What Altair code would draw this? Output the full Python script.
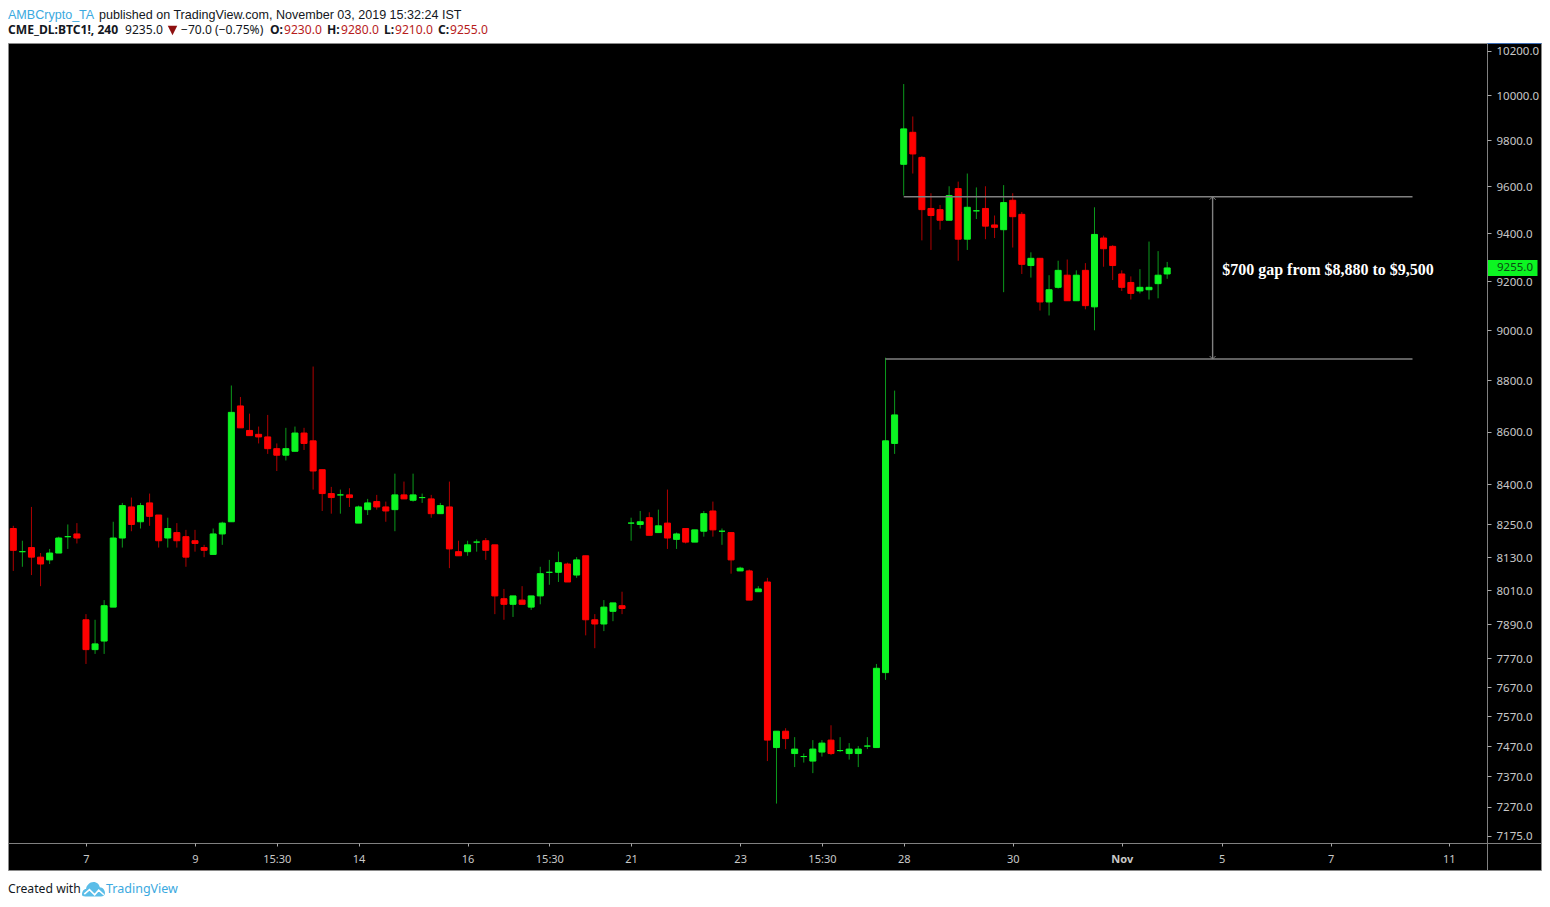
import altair as alt
import pandas as pd

# ---- candle data (4h bars, bar index -1 .. 127) ----
opens = [8285,
 8235,8150,8165,8130,8120,8145,8205,8215,7905,7800,
 7830,7950,8200,8315,8260,8330,8285,8200,8220,8205,
 8190,8165,8140,8215,8260,8700,8605,8590,8580,8535,
 8510,8525,8595,8565,8455,8365,8360,8360,8255,8305,
 8335,8315,8305,8360,8340,8350,8345,8290,8315,8150,
 8150,8185,8190,8175,7980,7960,7975,7950,7990,8075,
 8075,8105,8065,8135,7905,7890,7935,7955,8255,8250,
 8275,8220,8255,8195,8235,8185,8225,8300,8225,8220,
 8080,8080,8005,8040,7465,7520,7445,7435,7420,7450,
 7490,7455,7445,7445,7470,7465,7720,8555,9695,9835,
 9725,9505,9500,9455,9590,9375,9495,9505,9435,9415,
 9540,9480,9265,9295,9115,9175,9225,9120,9245,9095,
 9380,9345,9230,9195,9160,9165,9190,9230]
highs = [8285,
 8245,8190,8315,8145,8160,8205,8250,8255,7925,7905,
 7975,8260,8330,8350,8330,8365,8285,8275,8255,8230,
 8230,8175,8235,8260,8780,8735,8670,8620,8665,8555,
 8615,8620,8615,8855,8455,8390,8380,8385,8320,8345,
 8360,8335,8440,8410,8440,8365,8360,8330,8410,8190,
 8190,8195,8200,8175,8015,7990,8025,7990,8095,8120,
 8150,8110,8130,8135,7925,7975,7965,8005,8275,8300,
 8295,8305,8380,8220,8235,8230,8300,8335,8235,8220,
 8095,8085,8025,8055,7520,7530,7500,7445,7490,7490,
 7540,7500,7480,7470,7500,7750,8890,8760,10050,9905,
 9730,9570,9520,9600,9620,9655,9595,9600,9475,9605,
 9570,9490,9320,9295,9225,9285,9290,9245,9275,9510,
 9390,9350,9245,9220,9250,9365,9325,9280]
lows = [8235,
 8080,8095,8065,8025,8105,8145,8160,8180,7750,7785,
 7785,7950,8165,8225,8235,8245,8165,8165,8165,8095,
 8150,8130,8140,8175,8260,8615,8585,8555,8515,8450,
 8490,8525,8530,8380,8300,8290,8290,8315,8255,8285,
 8305,8260,8225,8345,8335,8330,8275,8290,8090,8135,
 8135,8150,8120,7925,7905,7915,7960,7940,7960,8030,
 8040,8040,8055,7850,7805,7865,7900,7925,8190,8235,
 8210,8220,8160,8160,8180,8185,8205,8205,8175,8070,
 8080,7975,8005,7420,7280,7460,7400,7415,7380,7435,
 7440,7450,7425,7400,7460,7465,7695,8515,9560,9655,
 9370,9330,9415,9455,9285,9330,9460,9375,9380,9155,
 9340,9230,9215,9080,9060,9170,9120,9120,9085,9000,
 9260,9205,9160,9125,9150,9125,9130,9210]
closes = [8235,
 8155,8150,8130,8105,8145,8200,8205,8200,7800,7820,
 7955,8200,8320,8250,8320,8280,8190,8235,8190,8130,
 8180,8155,8215,8255,8675,8615,8585,8580,8535,8510,
 8535,8595,8555,8450,8365,8350,8360,8350,8315,8330,
 8315,8300,8360,8345,8360,8350,8290,8320,8160,8135,
 8175,8185,8155,7990,7960,7990,7960,7990,8070,8075,
 8110,8040,8120,7905,7890,7950,7965,7945,8255,8260,
 8210,8245,8200,8215,8185,8230,8290,8230,8225,8120,
 8090,7975,8015,7490,7520,7495,7460,7435,7460,7480,
 7445,7455,7460,7460,7470,7735,8565,8665,9850,9740,
 9500,9475,9455,9560,9375,9510,9495,9430,9425,9530,
 9470,9270,9295,9115,9165,9245,9120,9225,9100,9395,
 9335,9265,9175,9150,9175,9175,9225,9255]
bars = list(range(-1, 128))

price_ticks = [10200,10000,9800,9600,9400,9200,9000,8800,8600,8400,8250,8130,8010,7890,7770,7670,7570,7470,7370,7270,7175]
time_ticks = [8,20,29,38,50,59,68,80,89,98,110,122,133,145,158]
time_labels = ["7","9","15:30","14","16","15:30","21","23","15:30","28","30","Nov","5","7","11"]

gap_top = 9555
gap_bottom = 8885
gap_bars = [98, 96, 154, 132]      # top start, bottom start, common end, arrow
gap_note = "$700 gap from $8,880 to $9,500"
last_price = 9255

df = pd.DataFrame({"bar": bars, "o": opens, "h": highs, "l": lows, "c": closes})
df["dir"] = ["up" if c >= o else "down" for o, c in zip(opens, closes)]

GREEN, RED = "#0CF522", "#FF0000"
GRAY = "#808080"
AX = "#C8C8C8"
FONT = "Noto Sans"

x_scale = alt.Scale(domain=[-0.583, 162.2], nice=False, zero=False, padding=0)
y_scale = alt.Scale(type="log", domain=[7152.5, 10232], nice=False, zero=False)
x_axis = alt.Axis(
    values=time_ticks, grid=False, domain=False, tickColor="#AAAAAA", tickSize=3, title=None, zindex=1,
    labelColor=AX, labelFont=FONT, labelFontSize=11, labelPadding=7,
    labelFontWeight=alt.condition("datum.value == 122", alt.value("bold"), alt.value("normal")),
    labelExpr="[" + ",".join(f"'{t}'" for t in time_labels) + "][indexof(" + str(time_ticks) + ", datum.value)]",
    labelOverlap=False, labelFlush=False)
y_axis = alt.Axis(
    orient="right", values=price_ticks, format=".1f", grid=False, domain=False, title=None, zindex=1,
    tickColor="#AAAAAA", tickSize=4, labelColor=AX, labelFont=FONT, labelFontSize=11.5,
    labelPadding=5, labelOffset=1, labelOverlap=False, labelFlush=False)
X = lambda f: alt.X(f, type="quantitative", scale=x_scale, axis=x_axis)
Y = lambda f: alt.Y(f, type="quantitative", scale=y_scale, axis=y_axis)

PW, PH = 1479, 799          # plot area; page origin of plot is (8, 44)
px = lambda v: v - 8
py = lambda v: v - 44

one = pd.DataFrame({"a": [0]})

# panel background and frame
panel = alt.Chart(one).mark_rect(fill="#000000", stroke="#8A8A8A", strokeWidth=1).encode(
    x=alt.value(0.5), x2=alt.value(px(1541.5)), y=alt.value(-0.5), y2=alt.value(py(870.5)))
frame_v = alt.Chart(one).mark_rule(color=GRAY, strokeWidth=1).encode(
    x=alt.value(px(1487.5)), y=alt.value(0), y2=alt.value(py(870)))
frame_h = alt.Chart(one).mark_rule(color=GRAY, strokeWidth=1).encode(
    x=alt.value(0), x2=alt.value(px(1541.5)), y=alt.value(py(843.5)))
blue_edge = alt.Chart(one).mark_rule(color="#3D6DB5", strokeWidth=1).encode(
    x=alt.value(px(1487.5)), x2=alt.value(px(1541.5)), y=alt.value(-0.5))

# candles
wicks = alt.Chart(df).mark_rule(strokeWidth=1, clip=True).encode(
    x=X("bar"), y=Y("l"), y2=alt.Y2("h"),
    color=alt.Color("dir:N", legend=None, scale=alt.Scale(domain=["up", "down"], range=["#0B9A1C", "#B00000"])))
bodies = alt.Chart(df).mark_bar(size=6, strokeWidth=1, clip=True, orient="vertical").encode(
    x=X("bar"), y=Y("o"), y2=alt.Y2("c"),
    fill=alt.Fill("dir:N", legend=None, scale=alt.Scale(domain=["up", "down"], range=[GREEN, RED])),
    stroke=alt.Stroke("dir:N", legend=None, scale=alt.Scale(domain=["up", "down"], range=[GREEN, RED])))

# gap annotation
gap_df = pd.DataFrame({"x": [gap_bars[0], gap_bars[1]], "x2": [gap_bars[2], gap_bars[2]], "y": [gap_top, gap_bottom]})
gap_lines = alt.Chart(gap_df).mark_rule(color=GRAY, strokeWidth=1.4).encode(x=X("x"), x2=alt.X2("x2"), y=Y("y"))
arrow_df = pd.DataFrame({"x": [gap_bars[3]], "y": [gap_top], "y2": [gap_bottom]})
arrow = alt.Chart(arrow_df).mark_rule(color=GRAY, strokeWidth=1.4).encode(x=X("x"), y=Y("y"), y2=alt.Y2("y2"))
head_up = alt.Chart(arrow_df).mark_point(shape="M-1,1L0,0L1,1", filled=False, stroke=GRAY, strokeWidth=1, size=36, opacity=1).encode(x=X("x"), y=Y("y"))
head_dn = alt.Chart(arrow_df).mark_point(shape="M-1,-1L0,0L1,-1", filled=False, stroke=GRAY, strokeWidth=1, size=36, opacity=1).encode(x=X("x"), y=Y("y2"))
note = alt.Chart(pd.DataFrame({"x": [133.05], "y": [9248], "t": [gap_note]})).mark_text(
    align="left", baseline="middle", font="Liberation Serif", fontWeight="bold", fontSize=16, color="#FFFFFF"
).encode(x=X("x"), y=Y("y"), text="t:N")

# last price tag
tag_df = pd.DataFrame({"y": [last_price], "t": [f"{last_price:.1f}"]})
tag = alt.Chart(tag_df).mark_rule(color=GREEN, strokeWidth=16).encode(
    x=alt.value(px(1488)), x2=alt.value(px(1537.5)), y=Y("y"))
tag_text = alt.Chart(tag_df).mark_text(align="left", baseline="middle", font=FONT, fontSize=11.5, color="#0A4A12").encode(
    x=alt.value(px(1497)), y=Y("y"), text="t:N")

# header and footer as real text
def txt(s, x, y, color="#131722", weight="normal", size=12.1, font=FONT):
    return alt.Chart(pd.DataFrame({"t": [s]})).mark_text(
        align="left", baseline="middle", font=font, fontSize=size, fontWeight=weight, color=color
    ).encode(x=alt.value(px(x)), y=alt.value(py(y)), text="t:N")

DR = "#B71C1C"
blue = "#3BA9E0"
texts = [
    txt("AMBCrypto_TA", 8, 15, blue, size=12.55, font="Liberation Sans"),
    txt("published on TradingView.com, November 03, 2019 15:32:24 IST", 99, 15, size=12.55, font="Liberation Sans"),
    txt("CME_DL:BTC1!, 240", 8, 30, weight="bold"),
    txt("9235.0", 125, 30),
    txt("\u221270.0 (\u22120.75%)", 181, 30),
    txt("O:", 270, 30, weight="bold"), txt("9230.0", 284, 30, DR),
    txt("H:", 327, 30, weight="bold"), txt("9280.0", 341, 30, DR),
    txt("L:", 384, 30, weight="bold"), txt("9210.0", 395, 30, DR),
    txt("C:", 438, 30, weight="bold"), txt("9255.0", 450, 30, DR),
    txt("Created with", 8, 888.5, size=12.2),
    txt("TradingView", 106, 888.5, blue, size=12.5),
]
tri = alt.Chart(one).mark_point(
    shape="M-1,-1L1,-1L0,1Z", filled=True, fill="#8E1010", stroke="#8E1010", strokeWidth=0, size=90, opacity=1
).encode(x=alt.value(px(172.5)), y=alt.value(py(30.5)))

cloud = alt.Chart(one).mark_point(
    shape="M-1,0.5C-1,0.2 -0.85,0 -0.65,0C-0.6,-0.3 -0.35,-0.6 0,-0.6C0.3,-0.6 0.5,-0.4 0.55,-0.15C0.8,-0.15 1,0.1 1,0.35C1,0.55 0.85,0.65 0.65,0.65L-0.7,0.65C-0.9,0.65 -1,0.6 -1,0.5Z",
    filled=True, fill="#5BBDE8", strokeWidth=0, size=529, opacity=1
).encode(x=alt.value(px(93.5)), y=alt.value(py(889)))
zig = alt.Chart(one).mark_point(
    shape="M-0.8,0.45L-0.35,0.05L0.1,0.5L0.45,0.1L0.9,0.5",
    filled=False, stroke="#FFFFFF", strokeWidth=1.6, size=529, opacity=1
).encode(x=alt.value(px(93.5)), y=alt.value(py(889)))

chart = alt.layer(
    panel, frame_v, frame_h, blue_edge, wicks, bodies, gap_lines, arrow, head_up, head_dn, note,
    tag, tag_text, tri, cloud, zig, *texts
).properties(
    width=PW, height=PH, background="#FFFFFF",
    padding={"left": 0, "top": 36, "right": 55, "bottom": 54},
    autosize=alt.AutoSizeParams(type="none", contains="content"),
).configure_view(stroke=None)

chart.save("out.html", embed_options={"renderer": "svg", "actions": False})
